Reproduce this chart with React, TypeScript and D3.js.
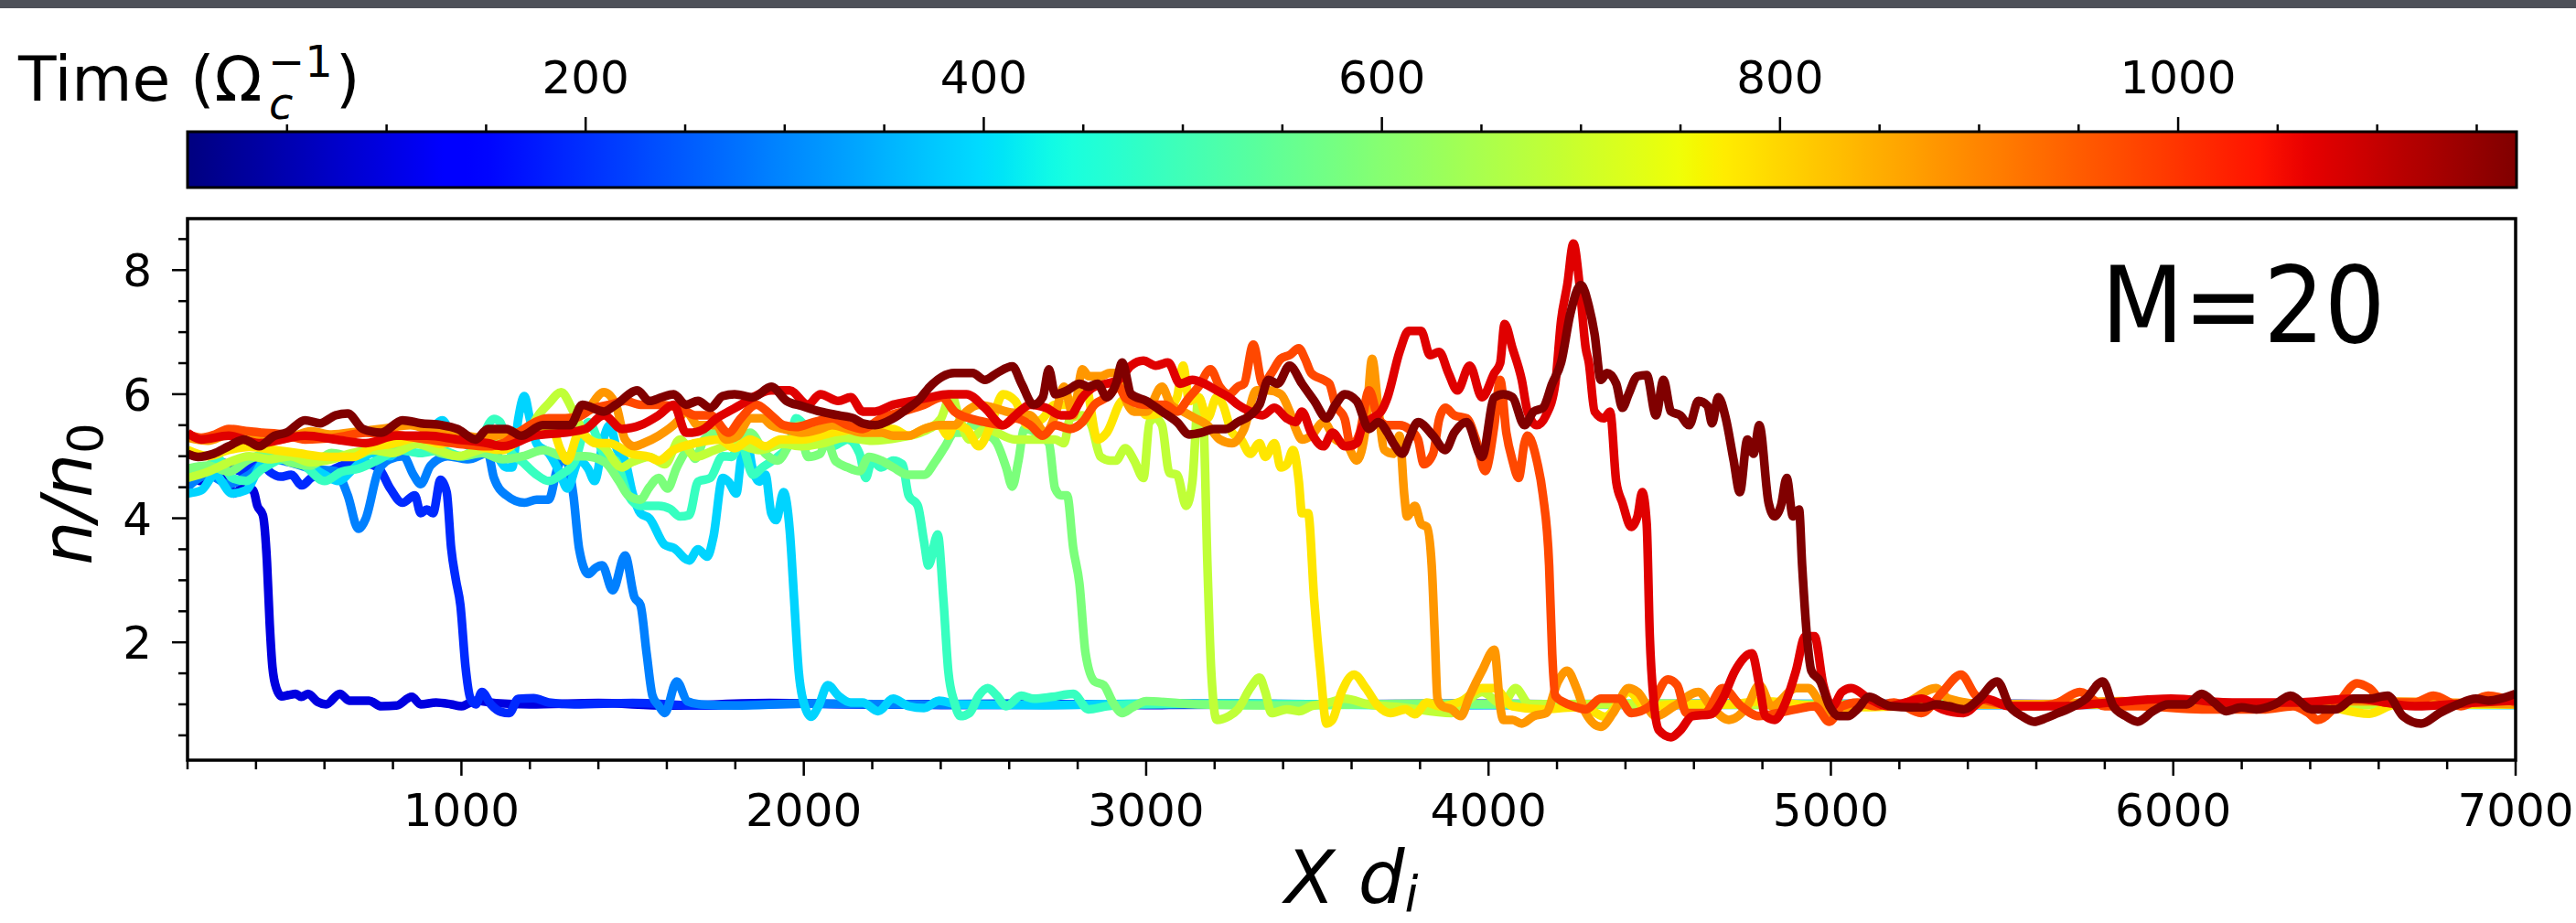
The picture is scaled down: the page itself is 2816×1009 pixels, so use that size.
import React from 'react';
import * as d3 from 'd3';

// density profiles n/n0 vs X (d_i), one per snapshot time (1/Omega_c)
const snapshotTimes = [97.5, 195, 292.5, 390, 487.5, 585, 682.5, 780, 877.5, 975, 1072.5, 1170];

const xTickValues = [1000, 2000, 3000, 4000, 5000, 6000, 7000];
const yTickValues = [2, 4, 6, 8];
const timeTickValues = [200, 400, 600, 800, 1000];

const profileT1 = [[200,4.75],[240,4.6],[280,4.85],[310,4.7],[335,4.4],[365,4.5],[392,4.45],[404,4.2],[420,4.05],[432,3.3],[440,2.3],[448,1.6],[460,1.25],[475,1.13],[495,1.15],[516,1.17],[532,1.12],[552,1.17],[580,1.04],[605,1.0],[645,1.17],[672,1.06],[730,1.06],[766,0.97],[810,0.98],[855,1.12],[881,1.0],[926,1.03],[970,1.0],[1000,0.97],[1042,1.06],[1100,1.02],[1200,1.0],[1400,1.02],[1600,0.98],[1900,1.02],[2200,1.0],[2600,1.01],[3000,0.99],[3500,1.0],[4000,1.01],[4500,0.99],[5000,1.0],[5500,1.01],[6000,0.99],[6500,1.0],[7000,1.0]];

const profileT2 = [[200,4.55],[250,4.7],[300,4.9],[360,4.75],[409,4.93],[440,4.75],[472,4.67],[503,4.7],[534,4.53],[561,4.65],[600,4.72],[650,4.85],[700,4.9],[756,4.82],[792,4.48],[828,4.25],[864,4.37],[881,4.08],[899,4.14],[917,4.08],[939,4.62],[957,4.42],[970,3.52],[984,3.0],[997,2.6],[1012,1.6],[1026,1.1],[1042,1.0],[1060,1.2],[1086,1.0],[1115,0.88],[1140,0.86],[1166,1.09],[1211,1.1],[1255,1.03],[1330,1.0],[1500,1.02],[1700,0.98],[2000,1.01],[2400,0.99],[2800,1.0],[3300,1.01],[3800,0.99],[4300,1.0],[4800,1.01],[5300,0.99],[5800,1.0],[6400,1.01],[7000,1.0]];

const profileT3 = [[200,4.5],[260,4.7],[320,4.55],[380,4.7],[440,4.95],[500,4.9],[560,4.8],[632,4.76],[668,4.37],[699,3.83],[721,4.0],[757,4.76],[790,4.95],[830,5.0],[860,4.7],[881,4.55],[910,4.85],[960,5.0],[1020,4.95],[1077,5.05],[1095,4.65],[1131,4.37],[1184,4.25],[1220,4.3],[1255,4.3],[1280,4.8],[1300,5.0],[1327,4.37],[1344,3.5],[1371,3.1],[1392,3.2],[1411,3.24],[1442,2.84],[1478,3.4],[1505,2.73],[1523,2.6],[1541,1.82],[1558,1.14],[1576,0.98],[1594,0.86],[1629,1.37],[1660,1.05],[1700,1.0],[1800,0.98],[2000,1.01],[2300,1.0],[2700,0.99],[3100,1.01],[3600,1.0],[4100,0.99],[4600,1.0],[5100,1.01],[5600,0.99],[6200,1.0],[7000,1.0]];

const profileT4 = [[200,4.4],[240,4.45],[280,4.7],[330,4.4],[370,4.45],[420,4.9],[470,5.0],[540,4.9],[600,4.7],[640,4.6],[685,4.8],[740,5.05],[790,5.0],[830,5.2],[860,5.3],[900,5.35],[944,5.58],[975,5.3],[1010,5.2],[1050,5.1],[1077,5.44],[1113,4.93],[1131,4.82],[1148,4.82],[1166,5.6],[1184,5.97],[1200,5.6],[1220,5.2],[1255,5.05],[1290,4.7],[1309,4.48],[1344,4.93],[1370,4.8],[1389,4.6],[1416,5.3],[1433,5.5],[1455,5.1],[1478,4.93],[1500,4.4],[1523,4.08],[1549,4.0],[1594,3.57],[1620,3.52],[1665,3.32],[1691,3.5],[1718,3.38],[1736,3.7],[1763,4.65],[1780,4.59],[1803,4.4],[1816,4.93],[1834,5.21],[1852,4.76],[1870,4.59],[1888,4.7],[1905,4.08],[1919,3.97],[1941,4.42],[1959,3.8],[1972,2.67],[1985,1.54],[2003,0.97],[2021,0.8],[2043,0.97],[2070,1.31],[2101,1.14],[2137,1.03],[2172,1.03],[2217,0.89],[2261,1.09],[2306,0.97],[2351,0.94],[2395,1.06],[2450,1.0],[2700,0.99],[3000,1.01],[3400,1.0],[3900,0.99],[4400,1.01],[4900,1.0],[5400,0.99],[6000,1.01],[6500,1.0],[7000,0.99]];

const profileT5 = [[200,4.7],[250,4.8],[290,4.95],[330,4.65],[370,4.6],[420,4.8],[480,4.95],[540,4.85],[600,4.6],[650,4.75],[700,4.8],[760,4.95],[820,5.1],[880,5.05],[940,5.1],[1000,5.0],[1050,5.2],[1095,5.6],[1113,5.55],[1140,5.1],[1180,4.9],[1220,4.7],[1255,4.6],[1290,4.7],[1330,4.9],[1371,5.55],[1416,5.04],[1451,4.93],[1487,4.37],[1523,4.2],[1576,4.2],[1610,4.15],[1638,4.03],[1665,4.05],[1691,4.59],[1727,4.65],[1763,5.0],[1789,4.99],[1816,5.21],[1852,4.7],[1879,4.82],[1923,4.99],[1959,5.21],[1977,5.61],[2012,5.44],[2048,5.27],[2083,5.16],[2128,5.27],[2163,5.04],[2181,4.65],[2199,4.93],[2226,4.82],[2261,4.93],[2288,4.87],[2306,4.37],[2333,4.2],[2351,3.63],[2364,3.24],[2391,3.74],[2408,2.67],[2422,1.54],[2440,1.03],[2457,0.81],[2484,0.86],[2511,1.14],[2537,1.26],[2564,1.14],[2591,0.97],[2635,1.14],[2671,1.09],[2725,1.12],[2787,1.17],[2831,0.92],[2885,0.97],[2950,1.0],[3300,1.01],[3700,0.99],[4200,1.0],[4700,1.01],[5200,0.99],[5700,1.0],[6300,1.01],[7000,1.0]];

const profileT6 = [[200,4.8],[260,4.85],[320,4.75],[380,4.95],[440,5.05],[500,4.9],[560,4.85],[620,5.05],[680,5.0],[740,5.1],[800,5.15],[870,5.2],[940,5.05],[1000,5.0],[1060,5.05],[1120,4.95],[1180,5.0],[1240,5.1],[1300,5.0],[1362,5.0],[1420,4.9],[1460,4.6],[1487,4.37],[1523,4.3],[1549,4.5],[1576,4.65],[1602,4.48],[1629,4.82],[1665,5.1],[1683,4.96],[1709,5.27],[1745,5.38],[1798,5.21],[1843,5.38],[1888,5.04],[1923,4.93],[1959,5.21],[1985,5.5],[2012,4.99],[2048,5.04],[2066,5.27],[2092,4.93],[2128,4.82],[2163,4.76],[2190,4.99],[2226,4.93],[2261,4.82],[2306,4.7],[2351,4.7],[2386,4.93],[2413,5.16],[2440,5.38],[2457,5.38],[2493,5.5],[2529,5.38],[2564,5.21],[2591,4.82],[2609,4.51],[2627,4.93],[2644,5.44],[2680,5.38],[2716,5.21],[2734,4.48],[2751,4.37],[2769,4.37],[2787,3.52],[2805,2.95],[2823,1.82],[2849,1.37],[2876,1.31],[2903,1.03],[2930,0.86],[2960,0.95],[3000,1.05],[3150,1.0],[3400,0.98],[3800,1.01],[4300,1.0],[4800,0.99],[5300,1.01],[5900,1.0],[6500,1.02],[7000,1.0]];

const profileT7 = [[200,4.65],[260,4.75],[320,4.9],[380,5.0],[440,4.95],[500,5.0],[560,4.9],[620,4.95],[680,5.05],[740,5.1],[800,5.05],[870,5.2],[930,5.1],[990,5.0],[1050,5.1],[1110,5.2],[1180,5.3],[1230,5.7],[1255,5.85],[1291,6.03],[1327,5.72],[1362,5.33],[1416,5.15],[1469,4.82],[1496,4.9],[1549,4.99],[1594,4.87],[1638,5.27],[1683,4.99],[1740,5.1],[1800,5.2],[1870,5.1],[1940,5.2],[1994,5.16],[2050,5.2],[2120,5.3],[2200,5.25],[2280,5.3],[2350,5.4],[2400,5.6],[2431,6.0],[2449,5.72],[2484,5.27],[2529,5.44],[2618,5.27],[2689,5.27],[2734,5.27],[2760,5.21],[2778,5.61],[2814,5.66],[2840,5.5],[2867,4.99],[2894,4.93],[2912,4.93],[2939,5.13],[2965,4.93],[2992,4.65],[3010,5.55],[3028,5.61],[3046,5.5],[3068,4.73],[3090,4.7],[3117,4.2],[3135,4.59],[3153,5.95],[3166,5.72],[3179,3.24],[3190,1.54],[3206,0.75],[3242,0.81],[3268,0.92],[3304,1.26],[3331,1.43],[3348,1.2],[3366,0.86],[3411,0.92],[3446,0.89],[3482,0.97],[3535,1.03],[3580,1.09],[3650,1.0],[3750,0.95],[3892,0.86],[3981,1.2],[4040,1.0],[4079,1.26],[4120,1.0],[4500,1.01],[5000,0.99],[5500,1.0],[6000,1.01],[6500,0.99],[7000,1.0]];

const profileT8 = [[200,5.1],[260,5.0],[320,5.1],[380,5.15],[454,5.1],[520,5.05],[614,4.99],[685,4.99],[740,5.15],[800,5.2],[870,5.3],[940,5.2],[1000,5.25],[1060,5.15],[1120,5.1],[1180,5.3],[1264,5.44],[1290,5.1],[1309,4.93],[1344,5.38],[1390,5.21],[1430,5.21],[1496,5.04],[1549,4.99],[1576,4.93],[1620,5.1],[1683,5.21],[1754,5.27],[1798,5.13],[1843,5.27],[1888,5.16],[1932,5.27],[1994,5.27],[2083,5.38],[2172,5.44],[2261,5.44],[2306,5.33],[2351,5.44],[2395,5.5],[2422,5.33],[2440,5.5],[2475,5.44],[2511,5.16],[2546,5.5],[2582,6.0],[2618,5.89],[2653,5.5],[2698,5.61],[2734,5.83],[2778,5.83],[2823,6.12],[2858,5.27],[2885,5.38],[2929,5.89],[2965,5.95],[3001,5.66],[3055,5.72],[3090,5.95],[3108,6.46],[3126,5.89],[3153,5.95],[3179,5.61],[3206,5.95],[3224,5.83],[3251,5.38],[3277,5.27],[3304,5.04],[3331,5.21],[3348,4.99],[3375,5.21],[3393,4.82],[3411,4.87],[3429,5.1],[3446,4.59],[3455,4.08],[3473,4.08],[3491,2.67],[3509,1.54],[3527,0.69],[3544,0.75],[3571,1.2],[3607,1.48],[3642,1.26],[3678,0.97],[3713,0.86],[3758,0.92],[3785,0.84],[3820,1.03],[3856,0.97],[3920,1.05],[3981,1.26],[4017,1.26],[4070,0.97],[4159,0.92],[4250,0.95],[4300,0.9],[4340,0.8],[4410,1.2],[4460,0.95],[4540,1.0],[4700,1.0],[4800,1.05],[5000,0.95],[5500,1.0],[6000,1.0],[6400,1.0],[6573,0.85],[6650,1.0],[7000,1.0]];

const profileT9 = [[200,5.3],[260,5.25],[320,5.35],[380,5.3],[440,5.25],[500,5.3],[560,5.4],[620,5.35],[700,5.4],[780,5.45],[850,5.5],[920,5.4],[990,5.35],[1060,5.3],[1120,5.35],[1180,5.4],[1250,5.55],[1300,5.6],[1360,5.7],[1416,6.03],[1451,5.83],[1478,5.27],[1505,5.16],[1532,5.21],[1576,5.33],[1629,5.55],[1656,5.72],[1691,5.5],[1745,5.5],[1772,5.27],[1807,5.33],[1843,5.61],[1879,5.61],[1905,5.5],[1941,5.44],[1994,5.38],[2048,5.44],[2083,5.5],[2128,5.44],[2172,5.38],[2226,5.38],[2261,5.33],[2306,5.33],[2351,5.44],[2395,5.5],[2440,5.5],[2475,5.72],[2511,5.83],[2555,5.78],[2591,5.72],[2662,5.66],[2707,5.38],[2734,5.66],[2760,6.12],[2787,5.66],[2814,6.4],[2832,6.29],[2867,6.29],[2894,6.34],[2920,6.34],[2938,5.95],[2965,5.72],[3001,5.72],[3046,6.12],[3072,5.83],[3108,5.72],[3144,5.61],[3179,5.5],[3215,5.27],[3251,5.21],[3286,5.44],[3322,6.06],[3357,6.06],[3393,6.0],[3419,5.72],[3437,5.44],[3455,5.27],[3482,5.33],[3518,5.55],[3553,5.27],[3589,5.16],[3615,4.93],[3642,5.5],[3660,6.57],[3678,5.78],[3696,5.1],[3722,5.04],[3740,5.33],[3754,4.37],[3762,4.03],[3785,4.2],[3803,3.91],[3820,3.86],[3834,3.24],[3843,2.1],[3851,1.09],[3865,0.97],[3892,0.92],[3919,0.81],[3945,1.14],[3981,1.54],[4017,1.88],[4034,0.97],[4043,0.75],[4070,0.75],[4097,0.69],[4132,0.81],[4168,0.86],[4203,1.37],[4230,1.54],[4257,1.26],[4284,0.86],[4328,0.64],[4364,0.86],[4409,1.26],[4435,1.2],[4489,0.81],[4542,0.97],[4613,1.2],[4649,0.97],[4702,0.75],[4756,0.97],[4791,1.31],[4827,0.97],[4898,1.26],[4934,1.26],[4969,1.03],[5005,0.86],[5100,1.0],[5200,1.0],[5308,1.26],[5344,1.09],[5450,1.0],[5600,1.0],[5850,1.05],[6000,1.0],[6300,1.0],[6500,1.05],[7000,1.0]];

const profileT10 = [[200,5.35],[240,5.3],[280,5.35],[320,5.44],[380,5.4],[418,5.38],[480,5.35],[543,5.27],[632,5.3],[721,5.38],[800,5.35],[899,5.27],[990,5.2],[1077,5.16],[1122,5.21],[1166,5.38],[1255,5.61],[1327,5.61],[1389,5.78],[1433,5.83],[1478,5.89],[1523,5.83],[1576,5.83],[1638,5.78],[1683,5.66],[1727,5.66],[1780,5.38],[1816,5.61],[1861,5.83],[1905,5.66],[1941,5.5],[1977,5.47],[2030,5.55],[2083,5.61],[2128,5.5],[2172,5.44],[2226,5.61],[2288,5.72],[2351,5.83],[2404,5.95],[2440,5.72],[2484,5.61],[2529,5.55],[2582,5.5],[2618,5.61],[2662,5.5],[2698,5.33],[2734,5.5],[2778,5.44],[2814,5.55],[2849,5.83],[2885,5.95],[2920,6.12],[2938,5.95],[2956,5.89],[3001,5.83],[3055,5.83],[3090,5.72],[3126,5.95],[3153,6.12],[3188,6.4],[3215,6.12],[3242,6.0],[3268,6.12],[3286,6.17],[3313,6.8],[3340,6.17],[3366,6.34],[3393,6.57],[3419,6.63],[3446,6.74],[3464,6.57],[3482,6.34],[3518,6.23],[3535,6.17],[3553,5.83],[3580,5.6],[3598,5.16],[3624,5.38],[3651,6.06],[3678,5.61],[3705,5.5],[3740,5.5],[3767,5.44],[3794,5.27],[3811,4.87],[3838,5.04],[3856,5.6],[3874,5.78],[3900,5.66],[3936,5.61],[3963,5.27],[3990,4.76],[4017,5.5],[4034,6.23],[4052,5.38],[4070,4.93],[4088,4.65],[4105,5.21],[4114,5.33],[4141,4.93],[4159,4.37],[4177,3.24],[4186,1.82],[4195,1.14],[4221,1.03],[4248,0.97],[4284,0.92],[4328,1.09],[4382,1.09],[4417,0.86],[4471,0.97],[4524,1.4],[4551,1.31],[4578,0.86],[4631,0.86],[4684,1.26],[4738,0.97],[4791,0.81],[4845,0.86],[4898,0.92],[4952,0.97],[4996,0.72],[5032,0.97],[5077,1.03],[5130,0.97],[5184,1.03],[5264,0.86],[5326,1.2],[5380,1.48],[5424,1.14],[5478,1.03],[5540,0.97],[5611,0.97],[5664,1.03],[5727,1.2],[5800,0.97],[5905,0.97],[6083,0.92],[6261,0.92],[6350,0.97],[6395,0.86],[6422,0.75],[6475,0.97],[6537,1.34],[6573,1.26],[6617,1.03],[6706,1.03],[6760,1.14],[6840,0.97],[6920,1.14],[7000,1.03]];

const profileT11 = [[200,5.38],[240,5.27],[320,5.33],[409,5.21],[543,5.33],[632,5.27],[721,5.21],[810,5.33],[899,5.33],[988,5.27],[1077,5.21],[1122,5.16],[1211,5.33],[1300,5.38],[1362,5.44],[1416,5.66],[1469,5.44],[1523,5.5],[1576,5.66],[1620,5.83],[1656,5.38],[1674,5.38],[1709,5.44],[1745,5.61],[1780,5.72],[1816,5.83],[1852,5.95],[1905,6.06],[1959,6.06],[2012,5.83],[2048,6.0],[2101,5.89],[2137,5.95],[2172,5.72],[2208,5.72],[2261,5.83],[2315,5.89],[2368,5.95],[2422,6.0],[2475,6.0],[2529,5.78],[2582,5.5],[2618,5.66],[2662,5.83],[2707,5.78],[2751,5.66],[2778,5.66],[2814,5.95],[2849,6.12],[2885,6.17],[2920,6.23],[2956,6.46],[2992,6.54],[3028,6.46],[3064,6.51],[3099,6.17],[3135,6.23],[3170,6.17],[3206,6.06],[3242,5.95],[3268,5.83],[3304,5.72],[3340,5.66],[3375,5.78],[3411,5.61],[3437,5.55],[3455,5.72],[3482,5.38],[3518,5.16],[3544,5.38],[3580,5.16],[3615,5.21],[3633,5.5],[3660,5.61],[3686,5.72],[3705,5.95],[3740,6.68],[3767,7.02],[3803,7.02],[3829,6.63],[3856,6.68],[3883,6.34],[3909,6.06],[3945,6.46],[3981,5.95],[4017,6.34],[4034,6.5],[4047,7.13],[4070,6.74],[4097,6.23],[4114,5.72],[4141,5.5],[4168,5.66],[4195,6.17],[4212,7.19],[4230,7.76],[4248,8.43],[4266,7.76],[4284,6.74],[4293,6.51],[4310,5.72],[4337,5.61],[4355,5.72],[4373,4.59],[4391,4.25],[4417,3.86],[4435,4.03],[4449,4.42],[4462,3.91],[4471,2.1],[4484,0.97],[4498,0.58],[4533,0.47],[4560,0.58],[4595,0.81],[4649,0.84],[4684,1.09],[4720,1.54],[4769,1.82],[4791,1.31],[4809,0.81],[4836,0.75],[4863,0.97],[4898,1.54],[4925,2.1],[4952,2.1],[4978,1.31],[5005,0.97],[5032,1.2],[5059,1.26],[5112,1.09],[5166,0.97],[5219,1.03],[5264,1.09],[5326,0.92],[5388,0.86],[5451,1.09],[5522,0.97],[5593,0.97],[5664,0.97],[5816,1.03],[5994,1.09],[6172,1.03],[6350,1.03],[6528,1.09],[6706,0.97],[6884,1.03],[7000,1.06]];

const profileT12 = [[200,5.04],[231,4.99],[276,5.04],[320,5.16],[365,5.27],[409,5.16],[454,5.33],[489,5.38],[543,5.58],[587,5.53],[632,5.66],[668,5.69],[712,5.44],[766,5.38],[828,5.58],[881,5.53],[944,5.5],[988,5.44],[1042,5.27],[1077,5.44],[1131,5.44],[1175,5.33],[1237,5.5],[1318,5.5],[1353,5.83],[1416,5.72],[1451,5.83],[1514,6.06],[1549,5.89],[1585,5.95],[1620,6.0],[1656,5.83],[1691,5.89],[1727,5.78],[1763,5.97],[1798,6.0],[1852,5.95],[1905,6.12],[1950,5.89],[1994,5.81],[2048,5.72],[2101,5.66],[2146,5.61],[2172,5.53],[2208,5.5],[2261,5.61],[2306,5.78],[2333,5.89],[2368,6.12],[2404,6.28],[2440,6.34],[2493,6.34],[2529,6.23],[2564,6.34],[2609,6.45],[2636,6.17],[2671,5.83],[2698,5.95],[2716,6.4],[2734,6.0],[2769,6.06],[2805,6.17],[2832,6.12],[2858,6.17],[2885,5.95],[2912,6.17],[2930,6.51],[2956,6.0],[3001,5.89],[3046,5.72],[3090,5.55],[3126,5.35],[3162,5.38],[3197,5.44],[3233,5.44],[3268,5.55],[3304,5.66],[3331,5.83],[3357,6.23],[3384,6.17],[3419,6.46],[3455,6.17],[3491,5.89],[3527,5.61],[3553,5.83],[3580,6.0],[3615,5.89],[3651,5.44],[3678,5.55],[3705,5.38],[3722,5.21],[3749,5.04],[3767,5.27],[3794,5.55],[3838,5.33],[3874,5.1],[3900,5.38],[3936,5.55],[3981,4.99],[4017,5.95],[4043,6.0],[4070,5.95],[4105,5.5],[4132,5.72],[4159,5.78],[4186,6.17],[4212,6.51],[4239,7.3],[4270,7.76],[4293,7.42],[4310,6.96],[4328,6.23],[4346,6.34],[4373,6.17],[4391,5.78],[4409,6.0],[4435,6.29],[4462,6.31],[4489,5.66],[4511,6.23],[4533,5.72],[4560,5.66],[4586,5.5],[4613,5.89],[4640,5.81],[4653,5.53],[4671,5.95],[4693,5.61],[4716,4.93],[4734,4.42],[4756,5.27],[4774,5.04],[4791,5.5],[4818,4.25],[4836,4.03],[4854,4.2],[4871,4.65],[4889,4.03],[4907,4.14],[4916,3.24],[4930,2.1],[4943,1.54],[4969,1.37],[4996,0.97],[5023,0.81],[5050,0.81],[5077,0.92],[5112,1.12],[5148,1.03],[5175,0.97],[5237,0.95],[5273,0.95],[5308,1.0],[5344,0.97],[5388,0.92],[5433,1.09],[5486,1.37],[5522,0.97],[5558,0.81],[5593,0.72],[5629,0.78],[5664,0.86],[5691,0.92],[5745,1.09],[5794,1.37],[5825,0.97],[5861,0.81],[5896,0.72],[5941,0.89],[5985,1.0],[6039,1.0],[6083,1.17],[6119,1.03],[6154,0.89],[6199,0.95],[6243,0.92],[6297,1.0],[6342,1.14],[6404,0.92],[6475,0.92],[6528,1.09],[6573,1.09],[6626,1.14],[6671,0.81],[6724,0.69],[6778,0.86],[6831,1.0],[6884,1.09],[6920,1.06],[7000,1.17]];

const profiles = [profileT1, profileT2, profileT3, profileT4, profileT5, profileT6, profileT7, profileT8, profileT9, profileT10, profileT11, profileT12];

// matplotlib "jet" colormap
const jetR = d3.scaleLinear().domain([0, 0.35, 0.66, 0.89, 1]).range([0, 0, 1, 1, 0.5]).clamp(true);
const jetG = d3.scaleLinear().domain([0, 0.125, 0.375, 0.64, 0.91, 1]).range([0, 0, 1, 1, 0, 0]).clamp(true);
const jetB = d3.scaleLinear().domain([0, 0.11, 0.34, 0.65, 1]).range([0.5, 1, 1, 0, 0]).clamp(true);
const jet = (t: number) => d3.rgb(jetR(t) * 255, jetG(t) * 255, jetB(t) * 255).formatHex();

const FONT = '"DejaVu Sans", Verdana, sans-serif';

export default function App() {
  const width = 2816;
  const height = 1009;
  const left = 205, right = 2750, top = 239, bottom = 831;
  const cbTop = 144, cbBottom = 205, cbRight = 2751;

  const x = d3.scaleLinear().domain([200, 7000]).range([left, right]);
  const y = d3.scaleLinear().domain([0.1, 8.83]).range([bottom, top]);
  const tScale = d3.scaleLinear().domain([0, 1170]).range([left, cbRight]);
  const norm = d3.scaleLinear().domain([0, 1170]).range([0, 1]);

  const line = d3.line<number[]>()
    .x(d => x(d[0]))
    .y(d => y(d[1]))
    .curve(d3.curveMonotoneX);

  const xMinor = d3.range(200, 7001, 200).filter(v => v % 1000 !== 0);
  const yMinor = d3.range(1, 18).map(k => k * 0.5).filter(v => Math.abs(v % 2) > 1e-6);
  const tMinor = d3.range(50, 1170, 50).filter(v => v % 200 !== 0);
  const gradStops = d3.range(0, 101).map(i => i / 100);

  return (
    <svg width={width} height={height} style={{ position: 'absolute', left: 0, top: 0, display: 'block' }}
      fontFamily={FONT}>
      <defs>
        <linearGradient id="jetbar" x1="0" x2="1" y1="0" y2="0">
          {gradStops.map(s => <stop key={s} offset={s} stopColor={jet(s)} />)}
        </linearGradient>
        <clipPath id="plotclip">
          <rect x={left} y={top} width={right - left} height={bottom - top} />
        </clipPath>
      </defs>
      <rect x={0} y={0} width={width} height={height} fill="#ffffff" />
      <rect x={0} y={0} width={width} height={9} fill="#4e5159" />

      {/* colorbar */}
      <rect x={left} y={cbTop} width={cbRight - left} height={cbBottom - cbTop} fill="url(#jetbar)" stroke="#000" strokeWidth={3} />
      {tMinor.map(v => (
        <line key={'tm' + v} x1={tScale(v)} x2={tScale(v)} y1={cbTop} y2={cbTop - 8} stroke="#000" strokeWidth={2.5} />
      ))}
      {timeTickValues.map(v => (
        <g key={'tt' + v}>
          <line x1={tScale(v)} x2={tScale(v)} y1={cbTop} y2={cbTop - 16} stroke="#000" strokeWidth={2.5} />
          <text x={tScale(v)} y={102} fontSize={50} textAnchor="middle">{v}</text>
        </g>
      ))}
      <text x={20} y={110} fontSize={68}>
        Time (Ω
        <tspan x={293} dy={-26} fontSize={48}>−1</tspan>
        <tspan x={294} dy={46} fontSize={48} fontStyle="italic">c</tspan>
        <tspan x={367} dy={-20}>)</tspan>
      </text>

      {/* profiles */}
      <g clipPath="url(#plotclip)">
        {profiles.map((p, i) => (
          <path key={i} d={line(p) || ''} fill="none" stroke={jet(norm(snapshotTimes[i]))}
            strokeWidth={9.5} strokeLinejoin="round" strokeLinecap="butt" />
        ))}
      </g>

      {/* axes */}
      <rect x={left} y={top} width={right - left} height={bottom - top} fill="none" stroke="#000" strokeWidth={3.5} />
      {xMinor.map(v => (
        <line key={'xm' + v} x1={x(v)} x2={x(v)} y1={bottom} y2={bottom + 10} stroke="#000" strokeWidth={2.5} />
      ))}
      {xTickValues.map(v => (
        <g key={'xt' + v}>
          <line x1={x(v)} x2={x(v)} y1={bottom} y2={bottom + 17} stroke="#000" strokeWidth={2.5} />
          <text x={x(v)} y={903} fontSize={50} textAnchor="middle">{v}</text>
        </g>
      ))}
      {yMinor.map(v => (
        <line key={'ym' + v} x1={left} x2={left - 10} y1={y(v)} y2={y(v)} stroke="#000" strokeWidth={2.5} />
      ))}
      {yTickValues.map(v => (
        <g key={'yt' + v}>
          <line x1={left} x2={left - 17} y1={y(v)} y2={y(v)} stroke="#000" strokeWidth={2.5} />
          <text x={166} y={y(v) + 18} fontSize={50} textAnchor="end">{v}</text>
        </g>
      ))}

      <text transform={`translate(100, ${(top + bottom) / 2 + 5}) rotate(-90)`} textAnchor="middle" fontSize={76}>
        <tspan fontStyle="italic">n/n</tspan>
        <tspan fontSize={53} dy={12}>0</tspan>
      </text>
      <text x={(left + right) / 2} y={987} textAnchor="middle" fontSize={80}>
        <tspan fontStyle="italic">X d</tspan>
        <tspan fontStyle="italic" fontSize={54} dy={9}>i</tspan>
      </text>
      <text transform="translate(2297, 374) scale(0.9, 1)" fontSize={116}>M=20</text>
    </svg>
  );
}
